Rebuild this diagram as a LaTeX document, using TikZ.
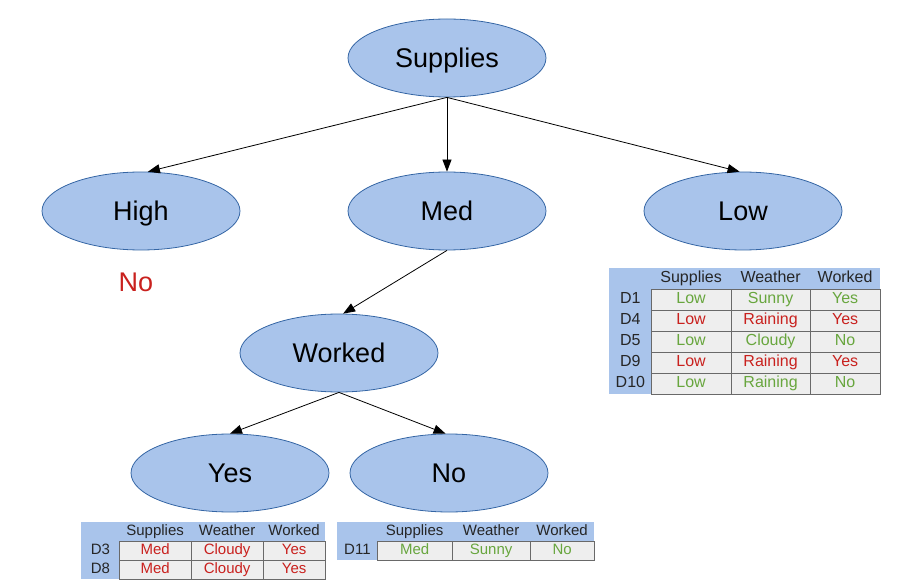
\documentclass[tikz,border=0pt]{standalone}
\usepackage{fontspec}
\setmainfont{Liberation Sans}
\usetikzlibrary{arrows.meta,matrix,positioning,shapes.geometric}

\definecolor{nodeblue}{RGB}{169,196,235}
\definecolor{nodeedge}{RGB}{52,101,164}
\definecolor{cellgray}{RGB}{238,238,238}
\definecolor{cellline}{RGB}{105,105,105}
\definecolor{badred}{RGB}{201,33,30}
\definecolor{goodgreen}{RGB}{104,166,62}

\tikzset{
  attr/.style={ellipse, draw=nodeedge, fill=nodeblue, minimum width=198pt, minimum height=78pt,
    inner sep=0pt, text height=19pt, text depth=0pt, font=\fontsize{27}{32}\selectfont},
  datatab/.style={matrix of nodes, fill=nodeblue, inner sep=0pt, anchor=north west,
    column sep=-0.6pt, row sep=-0.6pt,
    nodes={inner sep=0pt, anchor=center, text height=0.72em, text depth=0.02em, text=black!85}},
  cell/.style={fill=cellgray, draw=cellline, line width=0.6pt},
  bad/.style={cell, text=badred},
  good/.style={cell, text=goodgreen}
}

\begin{document}
\begin{tikzpicture}[x=1pt,y=-1pt,->,>={Triangle[length=12pt,width=9pt]},line width=0.8pt]
      \useasboundingbox (0,0) rectangle (924,588);
      % tree
      \node[attr] (supplies) at (447,58) {Supplies};
      \node[attr] (high) at (141,211) {High};
      \node[attr] (med) at (447,211) {Med};
      \node[attr] (low) at (743,211) {Low};
      \node[attr] (worked) at (339,353) {Worked};
      \node[attr] (yes) at (230,473) {Yes};
      \node[attr] (no) at (449,473) {No};
      \node[text=badred, font=\fontsize{27}{32}\selectfont] (highno) at (136,282) {No};
      \draw (supplies.south) -- (high.80);
      \draw (supplies.south) -- (med.north);
      \draw (supplies.south) -- (low.95);
      \draw (med.south) -- (worked.84);
      \draw (worked.south) -- (yes.north);
      \draw (worked.south) -- (no.95);
      % tables
      \matrix (lowtab) [datatab, nodes={minimum height=21pt, font=\fontsize{16}{18}\selectfont},
        column 1/.style={nodes={minimum width=42pt}}, column 2/.style={nodes={minimum width=80pt}},
        column 3/.style={nodes={minimum width=79pt}}, column 4/.style={nodes={minimum width=70pt}}]
        at (609,268) {
        & Supplies & Weather & Worked \\
        D1 & |[good]| Low & |[good]| Sunny & |[good]| Yes \\
        D4 & |[bad]| Low & |[bad]| Raining & |[bad]| Yes \\
        D5 & |[good]| Low & |[good]| Cloudy & |[good]| No \\
        D9 & |[bad]| Low & |[bad]| Raining & |[bad]| Yes \\
        D10 & |[good]| Low & |[good]| Raining & |[good]| No \\
      };
      \matrix (yestab) [datatab, nodes={minimum height=19pt, font=\fontsize{15}{17}\selectfont},
        column 1/.style={nodes={minimum width=38pt}}, column 2/.style={nodes={minimum width=72pt}},
        column 3/.style={nodes={minimum width=72pt}}, column 4/.style={nodes={minimum width=62pt}}]
        at (81,522) {
        & Supplies & Weather & Worked \\
        D3 & |[bad]| Med & |[bad]| Cloudy & |[bad]| Yes \\
        D8 & |[bad]| Med & |[bad]| Cloudy & |[bad]| Yes \\
      };
      \matrix (notab) [datatab, nodes={minimum height=19pt, font=\fontsize{15}{17}\selectfont},
        column 1/.style={nodes={minimum width=40pt}}, column 2/.style={nodes={minimum width=75pt}},
        column 3/.style={nodes={minimum width=78pt}}, column 4/.style={nodes={minimum width=64pt}}]
        at (337,522) {
        & Supplies & Weather & Worked \\
        D11 & |[good]| Med & |[good]| Sunny & |[good]| No \\
      };
\end{tikzpicture}
\end{document}
